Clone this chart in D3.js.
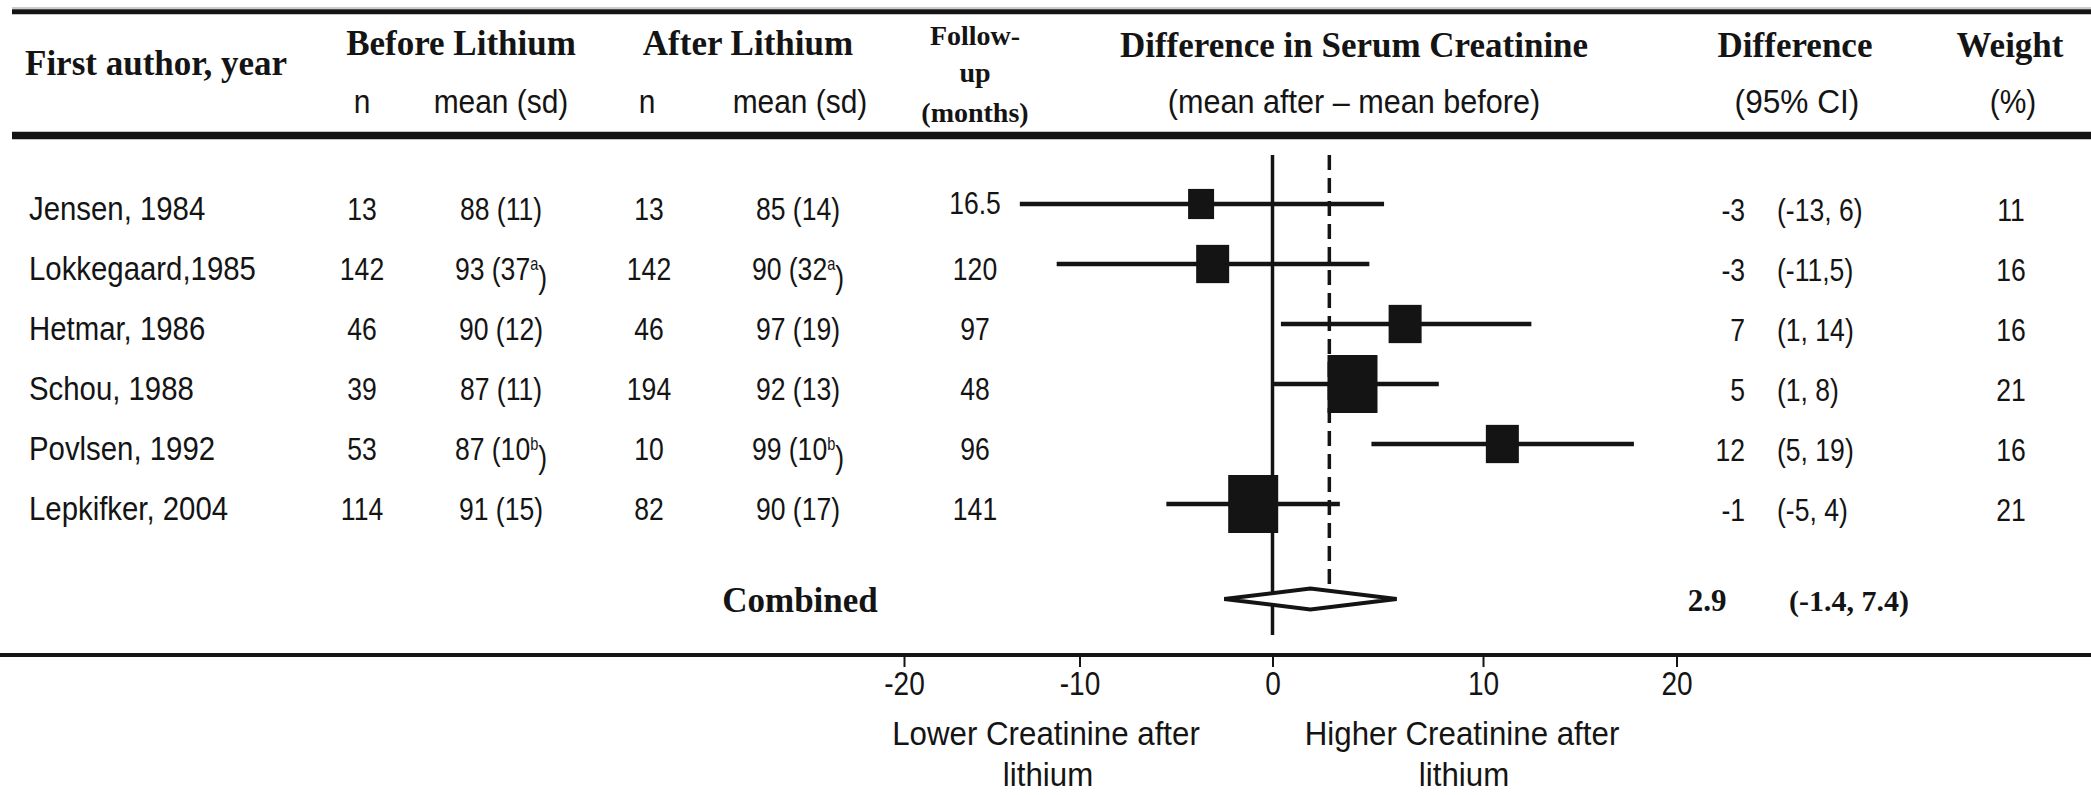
<!DOCTYPE html>
<html>
<head>
<meta charset="utf-8">
<script src="https://cdn.jsdelivr.net/npm/d3@7/dist/d3.min.js"></script>
<style>
  html, body { margin: 0; padding: 0; background: #ffffff; }
  svg { display: block; }
</style>
</head>
<body>
<svg id="chart" width="2091" height="795"></svg>
<script>
// ---------------- DATA ----------------
const studies     = ["Jensen, 1984", "Lokkegaard,1985", "Hetmar, 1986", "Schou, 1988", "Povlsen, 1992", "Lepkifker, 2004"];
const nBefore     = ["13", "142", "46", "39", "53", "114"];
const meanBefore  = ["88 (11)", "93 (37^a)", "90 (12)", "87 (11)", "87 (10^b)", "91 (15)"];
const nAfter      = ["13", "142", "46", "194", "10", "82"];
const meanAfter   = ["85 (14)", "90 (32^a)", "97 (19)", "92 (13)", "99 (10^b)", "90 (17)"];
const followUp    = ["16.5", "120", "97", "48", "96", "141"];
const diffText    = ["-3", "-3", "7", "5", "12", "-1"];
const ciText      = ["(-13, 6)", "(-11,5)", "(1, 14)", "(1, 8)", "(5, 19)", "(-5, 4)"];
const weights     = [11, 16, 16, 21, 16, 21];
// plotted positions as drawn in the figure
const plotEst     = [-3.7, -3.1, 6.3, 3.8, 11.0, -1.0];
const plotLo      = [-13.4, -11.3, 0.4, 0.0, 4.7, -5.5];
const plotHi      = [5.3, 4.6, 12.5, 7.9, 17.8, 3.2];
const combinedLabel = "Combined";
const combinedPlot  = [-2.5, 1.8, 5.9];      // lo, est, hi as drawn
const combinedText  = ["2.9", "(-1.4, 7.4)"];
const pooledLine    = 2.7;                    // dashed reference line
const tickValues    = [-20, -10, 0, 10, 20];
const lowerLabel    = ["Lower Creatinine after", "lithium"];
const higherLabel   = ["Higher Creatinine after", "lithium"];

// ---------------- SETUP ----------------
const svg = d3.select("#chart");
const INK = "#141414";
const SANS = "'Liberation Sans', Arial, Helvetica, sans-serif";
const SERIF = "'Liberation Serif', 'Times New Roman', Times, serif";

// the figure's axis is hand-spaced, so a polylinear scale reproduces it
const x = d3.scaleLinear().domain(tickValues).range([904, 1079.5, 1272.5, 1483, 1676.5]);
const y = d3.scalePoint().domain(studies).range([204, 504]);
const boxW = d3.scaleLinear().domain([11, 16, 21]).range([26, 33, 50]);
const combinedY = 599;

function txt(px, py, s, o) {
  const t = svg.append("text")
    .attr("transform", `translate(${px},${py}) scale(${o.sx || 1},1)`)
    .attr("text-anchor", o.anchor || "middle")
    .style("font-family", o.family || SANS)
    .style("font-size", (o.size || 30) + "px")
    .style("font-weight", o.weight || "normal")
    .attr("fill", INK);
  const m = s.match(/^(.*)\^(.)(.*)$/);
  if (m) {
    t.append("tspan").text(m[1]);
    t.append("tspan").attr("dy", "-0.55em").style("font-size", "55%").text(m[2]);
    t.append("tspan").attr("dy", "0.55em").text(m[3]);
  } else {
    t.text(s);
  }
  return t;
}

// ---------------- RULES ----------------
svg.append("line").attr("x1", 12).attr("x2", 2091).attr("y1", 8).attr("y2", 8)
  .attr("stroke", "#999").attr("stroke-width", 1.2);
svg.append("line").attr("x1", 12).attr("x2", 2091).attr("y1", 11.8).attr("y2", 11.8)
  .attr("stroke", INK).attr("stroke-width", 5);
svg.append("line").attr("x1", 12).attr("x2", 2091).attr("y1", 135.5).attr("y2", 135.5)
  .attr("stroke", INK).attr("stroke-width", 7.5);
svg.append("line").attr("x1", 0).attr("x2", 2091).attr("y1", 655).attr("y2", 655)
  .attr("stroke", INK).attr("stroke-width", 4);

// ---------------- HEADER ----------------
const HB = { family: SERIF, weight: "bold", size: 35 };
txt(25, 75, "First author, year", { ...HB, anchor: "start" });
txt(461, 55, "Before Lithium", HB);
txt(748, 55, "After Lithium", HB);
txt(975, 45, "Follow-", { ...HB, size: 28 });
txt(975, 82, "up", { ...HB, size: 28 });
txt(975, 122, "(months)", { ...HB, size: 28 });
txt(1354, 57, "Difference in Serum Creatinine", HB);
txt(1795, 57, "Difference", HB);
txt(2010, 57, "Weight", HB);

const SUB = { size: 34, sx: 0.88 };
txt(362, 113, "n", SUB);
txt(501, 113, "mean (sd)", SUB);
txt(647, 113, "n", SUB);
txt(800, 113, "mean (sd)", SUB);
txt(1354, 113, "(mean after  \u2013 mean before)", { size: 34, sx: 0.9 });
txt(1797, 113, "(95% CI)", { size: 34, sx: 0.93 });
txt(2013, 113, "(%)", SUB);

// ---------------- TABLE ROWS ----------------
const NUM = { size: 32, sx: 0.83 };
studies.forEach((s, i) => {
  const ry = y(s);
  txt(29, ry + 16, s, { size: 33, sx: 0.89, anchor: "start" });
  txt(362, ry + 16, nBefore[i], NUM);
  txt(501, ry + 16, meanBefore[i], NUM);
  txt(649, ry + 16, nAfter[i], NUM);
  txt(798, ry + 16, meanAfter[i], NUM);
  txt(975, ry + 16 - (i === 0 ? 6 : 0), followUp[i], NUM);
  txt(1745, ry + 17, diffText[i], { ...NUM, anchor: "end" });
  txt(1777, ry + 17, ciText[i], { ...NUM, anchor: "start" });
  txt(2011, ry + 17, String(weights[i]), NUM);
});

// ---------------- FOREST ----------------
const plot = svg.append("g");
// reference lines
plot.append("line").attr("x1", x(0)).attr("x2", x(0)).attr("y1", 155).attr("y2", 635)
  .attr("stroke", INK).attr("stroke-width", 3.5);
plot.append("line").attr("x1", x(pooledLine)).attr("x2", x(pooledLine)).attr("y1", 155).attr("y2", combinedY - 11)
  .attr("stroke", INK).attr("stroke-width", 3.5).attr("stroke-dasharray", "15,8");

// CI lines
plot.selectAll("line.ci").data(studies).join("line").attr("class", "ci")
  .attr("x1", (d, i) => x(plotLo[i])).attr("x2", (d, i) => x(plotHi[i]))
  .attr("y1", d => y(d)).attr("y2", d => y(d))
  .attr("stroke", INK).attr("stroke-width", 4.5);

// boxes
plot.selectAll("rect.box").data(studies).join("rect").attr("class", "box")
  .attr("x", (d, i) => x(plotEst[i]) - boxW(weights[i]) / 2)
  .attr("y", (d, i) => y(d) - boxW(weights[i]) * 1.16 / 2)
  .attr("width", (d, i) => boxW(weights[i]))
  .attr("height", (d, i) => boxW(weights[i]) * 1.16)
  .attr("fill", INK);

// combined diamond
const [cLo, cEst, cHi] = combinedPlot;
const dh = 10.5;
plot.append("path")
  .attr("d", `M${x(cLo)},${combinedY} L${x(cEst)},${combinedY - dh} L${x(cHi)},${combinedY} L${x(cEst)},${combinedY + dh} Z`)
  .attr("fill", "#fff").attr("stroke", INK).attr("stroke-width", 4).attr("stroke-linejoin", "miter");

txt(800, 612, combinedLabel, HB);
txt(1707, 611, combinedText[0], { family: SERIF, weight: "bold", size: 31 });
txt(1849, 611, combinedText[1], { family: SERIF, weight: "bold", size: 30 });

// ---------------- AXIS ----------------
const axis = svg.append("g").attr("transform", "translate(0,655)")
  .call(d3.axisBottom(x).tickValues(tickValues).tickSize(12).tickFormat(d => String(d)));
axis.select(".domain").remove();
axis.selectAll(".tick line").attr("stroke", INK).attr("stroke-width", 2);
axis.selectAll(".tick text")
  .attr("y", 40).attr("dy", null)
  .attr("transform", "scale(0.85,1)")
  .attr("fill", INK)
  .style("font-family", SANS).style("font-size", "33px");

const AX = { size: 34, sx: 0.92 };
txt(1046, 745, lowerLabel[0], AX);
txt(1048, 786, lowerLabel[1], AX);
txt(1462, 745, higherLabel[0], AX);
txt(1464, 786, higherLabel[1], AX);
</script>
</body>
</html>
